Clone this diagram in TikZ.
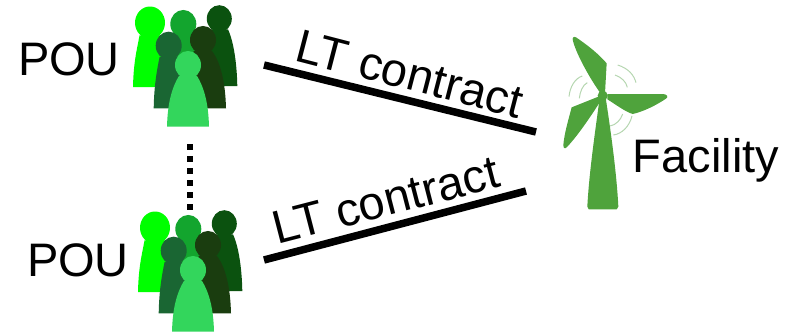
\documentclass[tikz,border=0pt]{standalone}
\usepackage{fontspec}
\setmainfont{Liberation Sans}
\definecolor{turbine}{HTML}{4FA33C}
\definecolor{ripple}{HTML}{B5D6B0}
\definecolor{c1}{HTML}{00FF00}
\definecolor{c2}{HTML}{13A52E}
\definecolor{c3}{HTML}{0B520F}
\definecolor{c4}{HTML}{1A6633}
\definecolor{c5}{HTML}{1A3D0F}
\definecolor{c6}{HTML}{33D65C}
% head x, head y, head radius, half width of the foot, foot y, colour
\newcommand{\person}[6]{
  \fill[#6] (#1,#2) ellipse (#3 and 1.08*#3);
  \fill[#6] ({#1-.7*#3},{#2+.85*#3}) .. controls ({#1-.75*#4},{#2+1.7*#3}) and ({#1-.97*#4},{#2+.6*(#5-#2)}) .. ({#1-#4},#5)
    -- ({#1+#4},#5) .. controls ({#1+.97*#4},{#2+.6*(#5-#2)}) and ({#1+.75*#4},{#2+1.7*#3}) .. ({#1+.7*#3},{#2+.85*#3}) -- cycle;
}
\tikzset{
  label/.style = {inner sep=0pt, font=\fontsize{47}{47}\selectfont},
  contract/.style = {line width=7.5},
  ripple line/.style = {ripple, line width=1},
  crowd/.pic = {
    \person{150}{22.7}{15}{17}{87}{c1}
    \person{183.3}{24}{13}{19}{92}{c2}
    \person{219.3}{18.7}{12.5}{18}{86}{c3}
    \person{168.7}{45.7}{13}{15}{108.3}{c4}
    \person{203}{40}{13}{23}{108.3}{c5}
    \person{188}{65}{13}{21}{126.7}{c6}
  },
}
\begin{document}
\begin{tikzpicture}[x=1pt,y=-1pt]
  \useasboundingbox (0,0) rectangle (795,332);

  \pic (top) at (0,0) {crowd};
  \pic (bottom) at (5,205) {crowd};

  \node[label] (PouTop) at (69,59) {POU};
  \node[label] (PouBottom) at (78,260) {POU};
  \node[label] (Facility) at (706,160) {Facility};

  \coordinate (TopStart) at (264,65);
  \coordinate (TopEnd) at (536,132);
  \coordinate (BottomStart) at (264,260);
  \coordinate (BottomEnd) at (526,191);
  \coordinate (DotsTop) at (190,144);
  \coordinate (DotsBottom) at (190,210);

  \draw[contract] (TopStart) -- (TopEnd);
  \draw[contract] (BottomStart) -- (BottomEnd);
  \draw[line width=6,dash pattern=on 6 off 6] (DotsTop) -- (DotsBottom);

  \node[label,rotate=-14.5] (ContractTop) at (410,74) {LT contract};
  \node[label,rotate=14.5] (ContractBottom) at (386,200) {LT contract};

  % turbine
  \begin{scope}[shift={(550,30)},x=1/3,y=-1/3]
    \fill[turbine] (150,197) .. controls (136,300) and (117,430) .. (112,530) -- (116,538) -- (200,538) -- (205,530)
      .. controls (200,430) and (182,300) .. (166,197) -- cycle;
    \fill[turbine] (158,197) circle (15);
    \fill[turbine] (165,190) -- (170,100) .. controls (145,70) and (105,40) .. (78,22)
      .. controls (70,18) and (66,24) .. (69,33) .. controls (80,75) and (120,145) .. (148,185) -- cycle;
    \fill[turbine] (172,192) -- (340,192) .. controls (352,194) and (356,200) .. (348,206)
      .. controls (320,225) and (280,245) .. (248,252) .. controls (225,245) and (195,222) .. (172,208) -- cycle;
    \fill[turbine] (150,198) -- (65,232) .. controls (55,270) and (43,310) .. (40,345)
      .. controls (40,356) and (46,358) .. (52,350) .. controls (85,315) and (125,255) .. (155,208) -- cycle;
    \draw[ripple line] (203,105) .. controls (235,115) and (252,135) .. (258,158);
    \draw[ripple line] (195,135) .. controls (215,142) and (228,155) .. (232,172);
    \draw[ripple line] (97,138) .. controls (75,145) and (60,170) .. (57,200);
    \draw[ripple line] (112,158) .. controls (98,165) and (90,185) .. (88,205);
    \draw[ripple line] (218,252) .. controls (212,270) and (198,285) .. (180,288);
    \draw[ripple line] (246,258) .. controls (238,290) and (215,312) .. (190,315);
  \end{scope}
\end{tikzpicture}
\end{document}
